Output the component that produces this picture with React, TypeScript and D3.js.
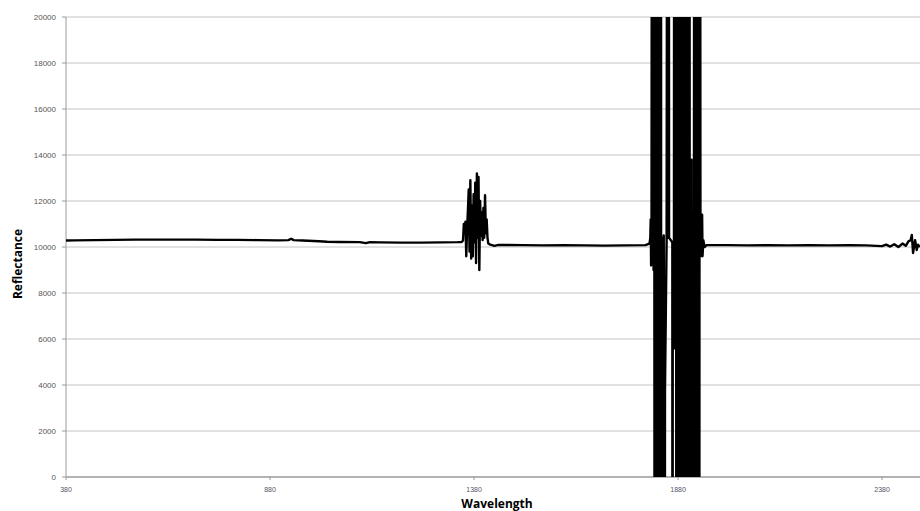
import * as d3 from 'd3';

// reflectance spectrum in [wavelength nm, value] pairs
const visNir: [number, number][] = [
  [380, 10280], [400, 10290], [450, 10300], [500, 10310], [550, 10320], [600, 10320],
  [650, 10320], [700, 10320], [750, 10310], [800, 10310], [850, 10300], [900, 10290],
  [925, 10300], [932, 10360], [938, 10300], [960, 10280], [1000, 10250], [1020, 10230],
  [1050, 10220], [1100, 10210], [1115, 10170], [1125, 10210], [1150, 10200], [1200, 10190],
  [1250, 10190], [1300, 10200], [1340, 10210], [1350, 10220],
];

const band1400: [number, number][] = [
  [1353, 10280], [1355, 11000], [1357, 10600], [1359, 11100], [1361, 9600], [1363, 10800],
  [1365, 11600], [1367, 12500], [1369, 9800], [1371, 12900], [1373, 9500], [1375, 11800],
  [1377, 9600], [1379, 12300], [1381, 10200], [1383, 12800], [1385, 9300], [1387, 13200],
  [1389, 10400], [1391, 13050], [1393, 9000], [1395, 12000], [1397, 10500], [1399, 11500],
  [1401, 10300], [1403, 11700], [1405, 10400], [1407, 12250], [1409, 10600], [1411, 11200],
  [1413, 10400], [1415, 10150], [1420, 10100], [1430, 10050], [1440, 10090],
];

const plateau: [number, number][] = [
  [1500, 10080], [1550, 10070], [1600, 10080], [1650, 10070], [1700, 10060],
  [1750, 10070], [1800, 10080], [1810, 10150],
];

// water band: the detector saturates, values run far past both ends of the axis
const band1900: [number, number][] = [
  [1812, 10400], [1813, 11200], [1814, 9200], [1815, 10600],
  [1817, 60000], [1818, 9500], [1819, 60000], [1820, 9000], [1821, 60000],
  [1823, -40000], [1824, 60000], [1825, -40000], [1826, 60000], [1827, -40000], [1828, 60000],
  [1829, 3600], [1830, 60000], [1831, -40000], [1832, 60000], [1833, -40000], [1834, 60000],
  [1835, -40000], [1836, 60000], [1837, -40000], [1838, 60000],
  [1839, -40000], [1840, 10400], [1841, -40000], [1842, 10300], [1844, -40000], [1845, 10500],
  [1847, -40000], [1848, 3800], [1852, 10300],
  [1855, 60000], [1856, 10400], [1857, 60000], [1858, 10400], [1866, 10200],
  [1866.5, -40000], [1867, 10000], [1870, 10100],
  [1871, 60000], [1872, 5600], [1873, 60000], [1874, 5600], [1875, 60000],
  [1876, -40000], [1877, 60000], [1879, -40000], [1880, 60000], [1882, -40000], [1883, 60000],
  [1885, -40000], [1886, 60000], [1888, -40000], [1889, 60000], [1891, -40000], [1892, 60000],
  [1894, -40000], [1895, 60000], [1897, -40000], [1898, 60000], [1900, -40000], [1901, 60000],
  [1903, -40000], [1904, 60000], [1906, -40000], [1907, 60000], [1908, 60000],
  [1909, -40000], [1910, 10000], [1911, -40000], [1913, 13800], [1915, -40000], [1916, 10200],
  [1918, -40000], [1920, 60000],
  [1921, -40000], [1922, 60000], [1924, -40000], [1925, 60000], [1927, -40000], [1928, 60000],
  [1930, -40000], [1931, 60000], [1932, -40000], [1933, 60000],
  [1935, 9600], [1937, 10400], [1939, 11400], [1940, 9600], [1942, 10300], [1945, 10000],
  [1950, 10080],
];

const swir: [number, number][] = [
  [2000, 10080], [2050, 10070], [2100, 10080], [2150, 10070], [2200, 10080], [2250, 10070],
  [2300, 10080], [2340, 10070], [2380, 10040], [2390, 10100], [2400, 10020], [2410, 10120],
  [2420, 10000], [2430, 10150], [2438, 10050], [2445, 10250], [2450, 10300], [2453, 10520],
  [2456, 9740], [2461, 10300], [2465, 9870], [2468, 10100], [2473, 10000],
];

const xTickLabels = [380, 880, 1380, 1880, 2380];
const yTicks = [0, 2000, 4000, 6000, 8000, 10000, 12000, 14000, 16000, 18000, 20000];

const W = 920;
const H = 511;
const plot = { left: 66, right: 920, top: 17, bottom: 477 };

export default function App() {
  const x = d3.scaleLinear().domain([380, 2473]).range([plot.left, plot.right]);
  const y = d3.scaleLinear().domain([0, 20000]).range([plot.bottom, plot.top]);

  const series = [...visNir, ...band1400, ...plateau, ...band1900, ...swir];
  const line = d3.line<[number, number]>()
    .x(d => x(d[0]))
    .y(d => y(d[1]));

  return (
    <svg width={W} height={H} style={{ position: 'absolute', left: 0, top: 0, background: '#fff' }}>
      <defs>
        <clipPath id="plotClip">
          <rect x={plot.left} y={plot.top} width={plot.right - plot.left} height={plot.bottom - plot.top} />
        </clipPath>
      </defs>

      {/* gridlines + y labels */}
      {yTicks.map(t => (
        <g key={t}>
          {t > 0 && (
            <line x1={plot.left} x2={plot.right} y1={y(t)} y2={y(t)} stroke="#c4c4c4" strokeWidth={1} />
          )}
          <line x1={plot.left - 4} x2={plot.left} y1={y(t)} y2={y(t)} stroke="#9a9a9a" />
          <text x={56} y={y(t)} dy="0.35em" textAnchor="end" fontSize={8}
            fontFamily="Liberation Sans, Arial, sans-serif" fill="#555">{t}</text>
        </g>
      ))}

      {/* axes */}
      <line x1={plot.left} x2={plot.left} y1={plot.top} y2={plot.bottom} stroke="#9a9a9a" />
      <line x1={plot.left} x2={plot.right} y1={plot.bottom} y2={plot.bottom} stroke="#9a9a9a" strokeWidth={1.5} />
      {xTickLabels.map(t => (
        <g key={t}>
          <line x1={x(t)} x2={x(t)} y1={plot.bottom} y2={plot.bottom + 3} stroke="#9a9a9a" />
          <text x={x(t)} y={492} textAnchor="middle" fontSize={7}
            fontFamily="Liberation Sans, Arial, sans-serif" fill="#556">{t}</text>
        </g>
      ))}

      <path d={line(series) ?? ''} fill="none" stroke="#000" strokeWidth={2.4}
        strokeLinejoin="round" clipPath="url(#plotClip)" />

      <text transform={`translate(22, 264) rotate(-90)`} textAnchor="middle" fontSize={12}
        fontWeight="bold" fontFamily="Open Sans, Liberation Sans, sans-serif" fill="#000">Reflectance</text>
      <text x={497} y={508} textAnchor="middle" fontSize={12} fontWeight="bold"
        fontFamily="Open Sans, Liberation Sans, sans-serif" fill="#000">Wavelength</text>
    </svg>
  );
}
